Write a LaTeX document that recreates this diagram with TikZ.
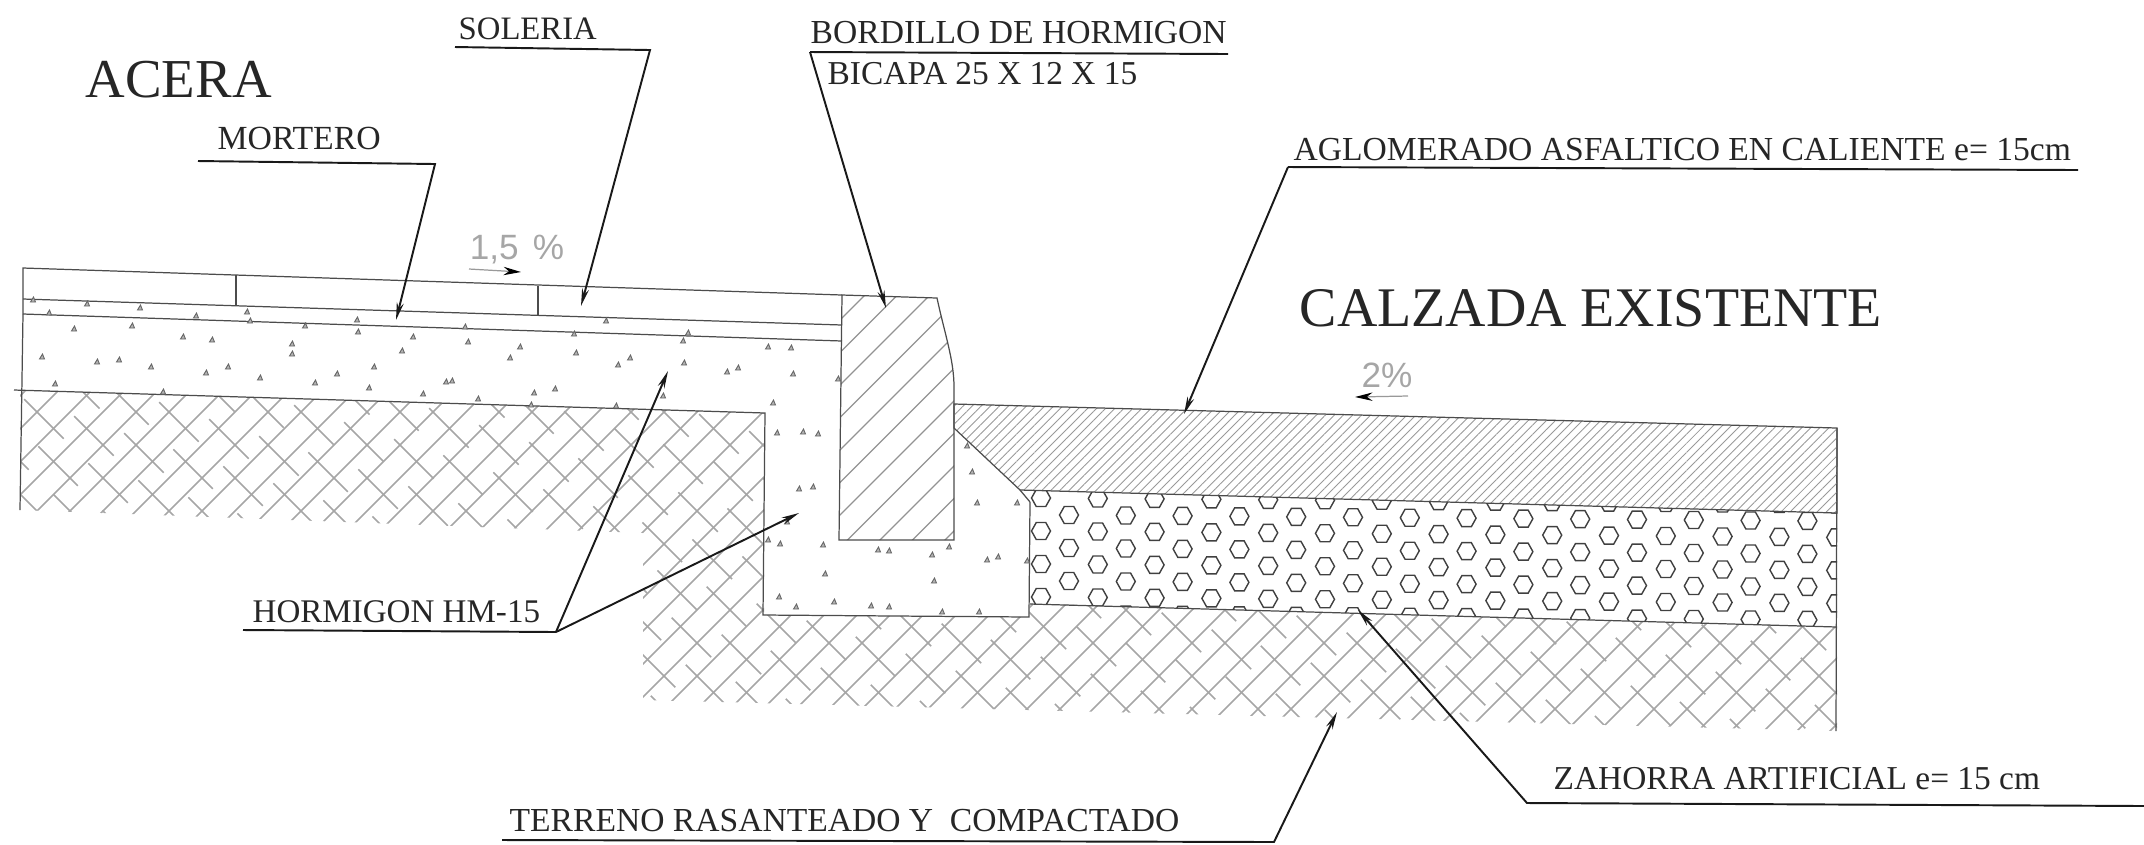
\documentclass[tikz,border=0pt]{standalone}
\usepackage{fontspec}
\setmainfont{Liberation Serif}
\setsansfont{Liberation Sans}
\usetikzlibrary{
  arrows.meta,
  patterns.meta
}
\tikzset{
  x=0.01cm,
  y=-0.01cm,
  >={Stealth[length=5pt,width=2pt]},
  label/.style={anchor=base west, inner sep=0pt, text=black!85, font=\fontsize{9.5}{11}\selectfont},
  title/.style={anchor=base west, inner sep=0pt, text=black!85, font=\fontsize{15.6}{18}\selectfont},
  slope/.style={anchor=center, inner sep=0pt, text=gray!70, font=\sffamily\fontsize{10}{12}\selectfont},
  slopearrow/.style={line width=0.35pt, gray!80, -{Stealth[length=5pt,width=2.4pt,black]}},
  leader/.style={line width=0.55pt, black!90},
  outline/.style={line width=0.35pt, black!70},
  earth/.style={line width=0.45pt, gray!70},
  curbline/.style={line width=0.35pt, gray!85},
  grain/.style={line width=0.25pt, black!60, fill=black!30},
  hexa/.style={line width=0.4pt, black!75},
  asphfill/.style={outline, pattern={Lines[angle=45,distance=0.064cm,line width=0.25pt]}, pattern color=gray!80}
}

\begin{document}
\begin{tikzpicture}
    \useasboundingbox (0,0) rectangle (2144,844);

    \begin{scope}
      \clip (20,390) -- (764,413) -- (764,615) -- (1029,617) -- (1030,604) -- (1837,627)
        -- (1837,731) -- (643,700) -- (643,533) -- (20,510) -- cycle;
      \foreach \k in {-10,...,56} {
        \pgfmathsetmacro{\sx}{713+33*\k-380}
        \draw[earth] (\sx,380) -- ++(1000,-1000) (\sx,380) -- ++(-400,400);
      }
      \foreach \j in {-10,...,48} {
        \pgfmathsetmacro{\m}{floor((-57-17*\j)/65)}
        \pgfmathsetmacro{\sx}{260+50*\j+65*\m}
        \pgfmathsetmacro{\sy}{\sx+177-33*\j}
        \draw[earth, dash pattern=on 15.9pt off 9.9pt] (\sx,\sy) -- ++(420,420);
      }
    \end{scope}

    \draw[outline] (23,314) -- (23,268) -- (842,295);
    \draw[outline] (23,299) -- (842,325);
    \draw[outline] (23,314) -- (842,341);
    \draw[outline] (236,275) -- (236,306);
    \draw[outline] (538,286) -- (538,316);
    \draw[outline] (23,314) -- (20,510);
    \draw[outline] (14,390) -- (765,413) -- (763,615) -- (1029,617) -- (1030,502);
    \draw[outline] (1837,428) -- (1836,731);

    \begin{scope}
      \clip (842,295) -- (937,298) .. controls (945,335) and (954,360) .. (954,387)
        -- (954,540) -- (839,540) -- cycle;
      \foreach \k in {-1,...,11} {
        \pgfmathsetmacro{\sx}{1160+32.5*\k-290}
        \draw[curbline] (\sx,290) -- ++(-260,260);
      }
    \end{scope}
    \draw[outline] (842,295) -- (937,298) .. controls (945,335) and (954,360) .. (954,387)
      -- (954,540) -- (839,540) -- cycle;
    \draw[asphfill] (954,404) -- (1837,428) -- (1837,513) -- (1020,490) -- (954,428) -- cycle;
    \draw[outline] (1020,490) -- (1030,502);
    \draw[outline] (1030,604) -- (1837,627);

    \begin{scope}
      \clip (1030,502) -- (1020,490) -- (1837,513) -- (1837,627) -- (1030,604) -- cycle;
      \foreach \c in {0,...,13} {
        \foreach \r in {0,...,3} {
          \pgfmathsetmacro{\hx}{1069+56.8*\c}
          \pgfmathsetmacro{\hy}{515+33*\r+0.008*(\hx-1069)}
          \draw[hexa] (\hx,\hy) +(9.5,0) -- +(4.75,8.5) -- +(-4.75,8.5) -- +(-9.5,0) -- +(-4.75,-8.5) -- +(4.75,-8.5) -- cycle;
        }
      }
      \foreach \c in {0,...,14} {
        \foreach \r in {0,...,3} {
          \pgfmathsetmacro{\hx}{1041+56.8*\c}
          \pgfmathsetmacro{\hy}{498+33*\r+0.008*(\hx-1041)}
          \draw[hexa] (\hx,\hy) +(9.5,0) -- +(4.75,8.5) -- +(-4.75,8.5) -- +(-9.5,0) -- +(-4.75,-8.5) -- +(4.75,-8.5) -- cycle;
        }
      }
    \end{scope}

    \foreach \x/\y in {33/300,87/304,140/308,49/313,196/316,247/312,250/321,305/326,357/320,358/332,
      465/327,132/326,74/329,183/337,212/340,413/337,468/342,606/321,574/334,292/344,292/354,402/351,
      520/347,576/353,510/358,618/365,42/357,97/362,119/360,151/367,206/373,228/367,374/367,337/374,
      260/378,315/383,369/388,452/381,446/382,55/384,163/392,423/394,478/399,534/393,555/389,531/405,
      616/406,688/333,683/341,768/347,791/348,630/358,684/363,738/368,727/372,793/374,838/379,663/396,
      773/403,777/433,803/432,818/434,799/489,813/487,787/522,768/540,780/544,823/545,878/550,889/551,
      932/555,949/547,987/560,998/557,1027/561,825/574,934/581,779/597,796/607,834/602,871/606,889/607,
      942/612,979/612,967/446,972/472,977/503,1017/503} {
      \draw[grain] (\x,\y) +(-2.5,2) -- +(2.5,2) -- +(0.5,-3) -- cycle;
    }

    \node[title] (acera) at (85,97) {ACERA};
    \node[title, font=\fontsize{15.9}{18}\selectfont] (calzada) at (1299,326) {CALZADA EXISTENTE};
    \node[label, font=\fontsize{9.3}{11}\selectfont] (soleria) at (458,39) {SOLERIA};
    \node[label, font=\fontsize{9.6}{11}\selectfont] (mortero) at (217,149) {MORTERO};
    \node[label, font=\fontsize{9.55}{11}\selectfont] (bordillo) at (810,43) {BORDILLO DE HORMIGON};
    \node[label] (bicapa) at (827,84) {BICAPA 25 X 12 X 15};
    \node[label, font=\fontsize{9.55}{11}\selectfont] (aglomerado) at (1293,160) {AGLOMERADO ASFALTICO EN CALIENTE e= 15cm};
    \node[label, font=\fontsize{9.4}{11}\selectfont] (hormigon) at (252,622) {HORMIGON HM-15};
    \node[label] (zahorra) at (1553,789) {ZAHORRA ARTIFICIAL e= 15 cm};
    \node[label, font=\fontsize{9.55}{11}\selectfont] (terreno) at (509,831) {TERRENO RASANTEADO Y\ \ COMPACTADO};
    \node[slope] (pct15) at (517,250) {1,5\hspace{0.4em}\%};
    \node[slope] (pct2) at (1387,375) {2\%};

    \coordinate (sol1) at (455,47);
    \coordinate (sol2) at (650,50);
    \coordinate (solt) at (581,306);
    \coordinate (mor1) at (198,161);
    \coordinate (mor2) at (435,164);
    \coordinate (mort) at (396,320);
    \coordinate (bor1) at (810,52);
    \coordinate (bor2) at (1228,54);
    \coordinate (bort) at (886,308);
    \coordinate (agl1) at (1288,167);
    \coordinate (agl2) at (2078,170);
    \coordinate (aglt) at (1184,414);
    \coordinate (hor1) at (243,630);
    \coordinate (hor2) at (556,632);
    \coordinate (hort) at (668,371);
    \coordinate (hors) at (799,513);
    \coordinate (zah1) at (2144,806);
    \coordinate (zah2) at (1527,803);
    \coordinate (zaht) at (1358,610);
    \coordinate (ter1) at (502,840);
    \coordinate (ter2) at (1274,842);
    \coordinate (tert) at (1337,712);
    \coordinate (pa1) at (469,269);
    \coordinate (pa2) at (521,272);
    \coordinate (pb1) at (1408,396);
    \coordinate (pb2) at (1355,397);

    \draw[leader, ->] (sol1) -- (sol2) -- (solt);
    \draw[leader, ->] (mor1) -- (mor2) -- (mort);
    \draw[leader] (bor1) -- (bor2);
    \draw[leader, ->] (bor1) -- (bort);
    \draw[leader] (agl2) -- (agl1);
    \draw[leader, ->] (agl1) -- (aglt);
    \draw[leader] (hor1) -- (hor2);
    \draw[leader, ->] (hor2) -- (hort);
    \draw[leader, ->] (hor2) -- (hors);
    \draw[leader, ->] (zah1) -- (zah2) -- (zaht);
    \draw[leader, ->] (ter1) -- (ter2) -- (tert);
    \draw[slopearrow] (pa1) -- (pa2);
    \draw[slopearrow] (pb1) -- (pb2);
\end{tikzpicture}
\end{document}
